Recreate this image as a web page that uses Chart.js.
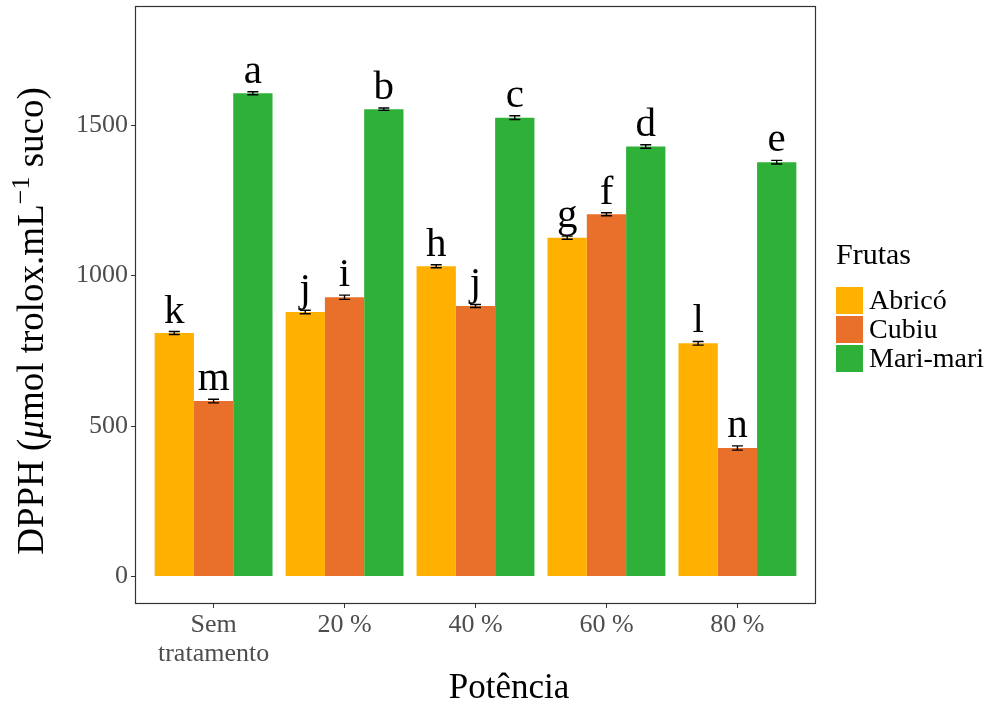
<!DOCTYPE html>
<html>
<head>
<meta charset="utf-8">
<script src="https://cdn.jsdelivr.net/npm/chart.js@4"></script>
<style>
  html, body { margin: 0; padding: 0; background: #ffffff; }
  #wrap { width: 1003px; height: 705px; }
</style>
</head>
<body>
<div id="wrap"><canvas id="c" width="1003" height="705"></canvas></div>
<script>
// Categories (power level) and tick labels
const categories = ['Sem tratamento', '20 %', '40 %', '60 %', '80 %'];
const tickLabels = [['Sem', 'tratamento'], '20 %', '40 %', '60 %', '80 %'];
const yTicks = [0, 500, 1000, 1500];

// Mean DPPH per fruit
const abrico   = [809, 879, 1031, 1126, 775];
const cubiu    = [583, 928, 899, 1204, 427];
const marimari = [1606, 1553, 1525, 1429, 1377];

// Standard deviations
const abricoSd   = [5, 6, 5, 5, 6];
const cubiuSd    = [6, 7, 5, 5, 7];
const marimariSd = [5, 4, 6, 6, 6];

// Significance letters
const abricoLetters   = ['k', 'j', 'h', 'g', 'l'];
const cubiuLetters    = ['m', 'i', 'j', 'f', 'n'];
const marimariLetters = ['a', 'b', 'c', 'd', 'e'];

const fruits = ['Abricó', 'Cubiu', 'Mari-mari'];
const colors = ['#FFB000', '#E9702A', '#2FB038'];

const SERIF = '"Liberation Serif", "DejaVu Serif", serif';

function toPoints(values) {
  return values.map((v, i) => ({ x: i + 1, y: v }));
}

const datasets = [
  { label: fruits[0], data: toPoints(abrico),   sd: abricoSd,   letters: abricoLetters,   backgroundColor: colors[0] },
  { label: fruits[1], data: toPoints(cubiu),    sd: cubiuSd,    letters: cubiuLetters,    backgroundColor: colors[1] },
  { label: fruits[2], data: toPoints(marimari), sd: marimariSd, letters: marimariLetters, backgroundColor: colors[2] }
].map(d => Object.assign(d, { categoryPercentage: 0.9, barPercentage: 1.0, borderWidth: 0 }));

// Error bars, letters, panel border, titles and legend
const decorations = {
  id: 'decorations',
  afterDatasetsDraw(chart) {
    const ctx = chart.ctx;
    const ys = chart.scales.y;
    ctx.save();
    chart.data.datasets.forEach((ds, di) => {
      const meta = chart.getDatasetMeta(di);
      meta.data.forEach((bar, i) => {
        const v = ds.data[i].y;
        const sd = ds.sd[i];
        const x = bar.x;
        const yHi = ys.getPixelForValue(v + sd);
        const yLo = ys.getPixelForValue(v - sd);
        ctx.strokeStyle = '#000';
        ctx.lineWidth = 1.4;
        ctx.beginPath();
        ctx.moveTo(x, yHi); ctx.lineTo(x, yLo);
        ctx.moveTo(x - 5.5, yHi); ctx.lineTo(x + 5.5, yHi);
        ctx.moveTo(x - 5.5, yLo); ctx.lineTo(x + 5.5, yLo);
        ctx.stroke();
        ctx.fillStyle = '#000';
        ctx.font = '41px ' + SERIF;
        ctx.textAlign = 'center';
        ctx.textBaseline = 'alphabetic';
        ctx.fillText(ds.letters[i], x, yHi - 9);
      });
    });
    ctx.restore();
  },
  afterDraw(chart) {
    const ctx = chart.ctx;
    const a = chart.chartArea;
    ctx.save();
    // panel border
    ctx.strokeStyle = '#333333';
    ctx.lineWidth = 1.2;
    ctx.strokeRect(a.left + 0.5, a.top + 0.5, a.right - a.left - 1, a.bottom - a.top - 1);

    // x title
    ctx.fillStyle = '#000';
    ctx.font = '35px ' + SERIF;
    ctx.textAlign = 'center';
    ctx.textBaseline = 'alphabetic';
    ctx.fillText('Potência', 509, 698);

    // y title (rotated, with italic mu and superscript)
    const parts = [
      { t: 'DPPH (', f: '37px ' + SERIF, dy: 0 },
      { t: 'μ', f: 'italic 37px ' + SERIF, dy: 0 },
      { t: 'mol trolox.mL', f: '37px ' + SERIF, dy: 0 },
      { t: '−1', f: '26px ' + SERIF, dy: -14 },
      { t: ' suco)', f: '37px ' + SERIF, dy: 0 }
    ];
    let total = 0;
    parts.forEach(p => { ctx.font = p.f; p.w = ctx.measureText(p.t).width; total += p.w; });
    ctx.translate(43, 321);
    ctx.rotate(-Math.PI / 2);
    ctx.textAlign = 'left';
    let cx = -total / 2;
    parts.forEach(p => {
      ctx.font = p.f;
      ctx.fillText(p.t, cx, p.dy);
      cx += p.w;
    });
    ctx.setTransform(1, 0, 0, 1, 0, 0);

    // legend
    ctx.font = '30px ' + SERIF;
    ctx.fillStyle = '#000';
    ctx.textAlign = 'left';
    ctx.fillText('Frutas', 836, 264);
    const keyTops = [287, 316, 345];
    fruits.forEach((f, i) => {
      ctx.fillStyle = colors[i];
      ctx.fillRect(836, keyTops[i], 27, 27);
      ctx.fillStyle = '#000';
      ctx.font = '28px ' + SERIF;
      ctx.fillText(f, 869, keyTops[i] + 22);
    });
    ctx.restore();
  }
};

new Chart(document.getElementById('c'), {
  type: 'bar',
  data: { datasets },
  options: {
    responsive: false,
    animation: false,
    devicePixelRatio: 1,
    layout: { padding: { left: 0, top: 6, right: 187, bottom: 0 } },
    plugins: { legend: { display: false }, tooltip: { enabled: false } },
    scales: {
      x: {
        type: 'linear',
        min: 0.4,
        max: 5.6,
        offset: false,
        afterBuildTicks(scale) { scale.ticks = categories.map((c, i) => ({ value: i + 1 })); },
        afterFit(scale) { scale.height = 101; scale.paddingLeft = 0; scale.paddingRight = 0; },
        ticks: {
          autoSkip: false,
          maxRotation: 0,
          padding: 3,
          color: '#4D4D4D',
          font: { family: SERIF, size: 26, lineHeight: 1.1 },
          callback(v) { return tickLabels[Math.round(v) - 1]; }
        },
        grid: { offset: false, drawOnChartArea: false, drawTicks: true, tickLength: 4, color: '#333333' },
        border: { display: false }
      },
      y: {
        min: -91.5,
        max: 1896,
        afterBuildTicks(scale) { scale.ticks = yTicks.map(v => ({ value: v })); },
        afterFit(scale) { scale.width = 135; scale.paddingTop = 0; scale.paddingBottom = 0; },
        ticks: {
          padding: 3,
          color: '#4D4D4D',
          font: { family: SERIF, size: 26 },
          callback(v) { return String(v); }
        },
        grid: { drawOnChartArea: false, drawTicks: true, tickLength: 4, color: '#333333' },
        border: { display: false }
      }
    }
  },
  plugins: [decorations]
});
</script>
</body>
</html>
